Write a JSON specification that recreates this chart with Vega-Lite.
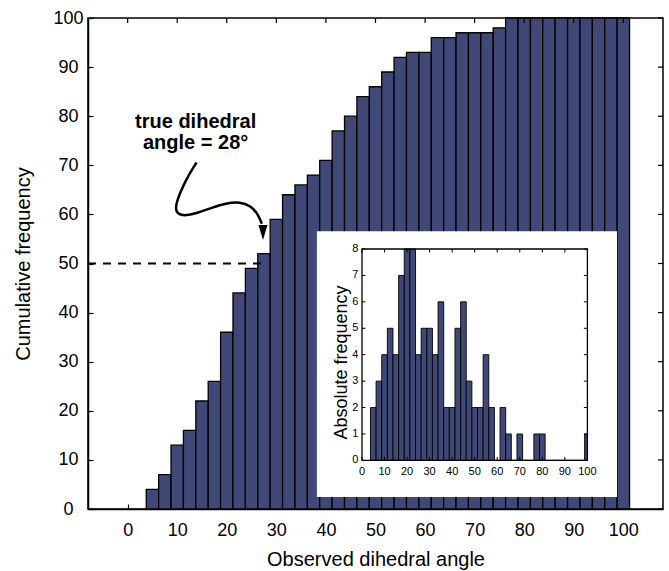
{
  "$schema": "https://vega.github.io/schema/vega-lite/v6.json",
  "autosize": {"type": "none"},
  "width": 575,
  "height": 491,
  "padding": {"left": 88, "top": 18, "right": 6, "bottom": 62},
  "background": "white",
  "config": {
    "view": {"stroke": "black", "strokeWidth": 1.5},
    "axis": {"domainColor": "black", "tickColor": "black", "labelColor": "black", "titleColor": "black", "grid": false, "domainWidth": 1.5, "tickWidth": 1.2, "labelFont": "Liberation Sans", "titleFont": "Liberation Sans", "titleFontWeight": "normal"}
  },
  "datasets": {
    "cumulative": [
      {"lo": 3.75, "hi": 6.25, "cum": 4},
      {"lo": 6.25, "hi": 8.75, "cum": 7},
      {"lo": 8.75, "hi": 11.25, "cum": 13},
      {"lo": 11.25, "hi": 13.75, "cum": 16},
      {"lo": 13.75, "hi": 16.25, "cum": 22},
      {"lo": 16.25, "hi": 18.75, "cum": 26},
      {"lo": 18.75, "hi": 21.25, "cum": 36},
      {"lo": 21.25, "hi": 23.75, "cum": 44},
      {"lo": 23.75, "hi": 26.25, "cum": 49},
      {"lo": 26.25, "hi": 28.75, "cum": 52},
      {"lo": 28.75, "hi": 31.25, "cum": 59},
      {"lo": 31.25, "hi": 33.75, "cum": 64},
      {"lo": 33.75, "hi": 36.25, "cum": 66},
      {"lo": 36.25, "hi": 38.75, "cum": 68},
      {"lo": 38.75, "hi": 41.25, "cum": 71},
      {"lo": 41.25, "hi": 43.75, "cum": 77},
      {"lo": 43.75, "hi": 46.25, "cum": 80},
      {"lo": 46.25, "hi": 48.75, "cum": 84},
      {"lo": 48.75, "hi": 51.25, "cum": 86},
      {"lo": 51.25, "hi": 53.75, "cum": 89},
      {"lo": 53.75, "hi": 56.25, "cum": 92},
      {"lo": 56.25, "hi": 58.75, "cum": 93},
      {"lo": 58.75, "hi": 61.25, "cum": 93},
      {"lo": 61.25, "hi": 63.75, "cum": 96},
      {"lo": 63.75, "hi": 66.25, "cum": 96},
      {"lo": 66.25, "hi": 68.75, "cum": 97},
      {"lo": 68.75, "hi": 71.25, "cum": 97},
      {"lo": 71.25, "hi": 73.75, "cum": 97},
      {"lo": 73.75, "hi": 76.25, "cum": 98},
      {"lo": 76.25, "hi": 78.75, "cum": 100},
      {"lo": 78.75, "hi": 81.25, "cum": 100},
      {"lo": 81.25, "hi": 83.75, "cum": 100},
      {"lo": 83.75, "hi": 86.25, "cum": 100},
      {"lo": 86.25, "hi": 88.75, "cum": 100},
      {"lo": 88.75, "hi": 91.25, "cum": 100},
      {"lo": 91.25, "hi": 93.75, "cum": 100},
      {"lo": 93.75, "hi": 96.25, "cum": 100},
      {"lo": 96.25, "hi": 98.75, "cum": 100},
      {"lo": 98.75, "hi": 101.25, "cum": 100}
    ],
    "absolute": [
      {"lo": 3.75, "hi": 6.25, "count": 2},
      {"lo": 6.25, "hi": 8.75, "count": 3},
      {"lo": 8.75, "hi": 11.25, "count": 4},
      {"lo": 11.25, "hi": 13.75, "count": 5},
      {"lo": 13.75, "hi": 16.25, "count": 4},
      {"lo": 16.25, "hi": 18.75, "count": 7},
      {"lo": 18.75, "hi": 21.25, "count": 8},
      {"lo": 21.25, "hi": 23.75, "count": 8},
      {"lo": 23.75, "hi": 26.25, "count": 4},
      {"lo": 26.25, "hi": 28.75, "count": 5},
      {"lo": 28.75, "hi": 31.25, "count": 5},
      {"lo": 31.25, "hi": 33.75, "count": 4},
      {"lo": 33.75, "hi": 36.25, "count": 6},
      {"lo": 36.25, "hi": 38.75, "count": 2},
      {"lo": 38.75, "hi": 41.25, "count": 2},
      {"lo": 41.25, "hi": 43.75, "count": 5},
      {"lo": 43.75, "hi": 46.25, "count": 6},
      {"lo": 46.25, "hi": 48.75, "count": 3},
      {"lo": 48.75, "hi": 51.25, "count": 2},
      {"lo": 51.25, "hi": 53.75, "count": 2},
      {"lo": 53.75, "hi": 56.25, "count": 4},
      {"lo": 56.25, "hi": 58.75, "count": 2},
      {"lo": 58.75, "hi": 61.25, "count": 0},
      {"lo": 61.25, "hi": 63.75, "count": 2},
      {"lo": 63.75, "hi": 66.25, "count": 1},
      {"lo": 66.25, "hi": 68.75, "count": 0},
      {"lo": 68.75, "hi": 71.25, "count": 1},
      {"lo": 71.25, "hi": 73.75, "count": 0},
      {"lo": 73.75, "hi": 76.25, "count": 0},
      {"lo": 76.25, "hi": 78.75, "count": 1},
      {"lo": 78.75, "hi": 81.25, "count": 1},
      {"lo": 81.25, "hi": 83.75, "count": 0},
      {"lo": 83.75, "hi": 86.25, "count": 0},
      {"lo": 86.25, "hi": 88.75, "count": 0},
      {"lo": 88.75, "hi": 91.25, "count": 0},
      {"lo": 91.25, "hi": 93.75, "count": 0},
      {"lo": 93.75, "hi": 96.25, "count": 0},
      {"lo": 96.25, "hi": 98.75, "count": 0},
      {"lo": 98.75, "hi": 101.25, "count": 1}
    ],
    "arrow": [
      {"ord": 1, "x": 13.89, "y": 70.57},
      {"ord": 2, "x": 12.33, "y": 68.07},
      {"ord": 3, "x": 11.02, "y": 65.42},
      {"ord": 4, "x": 10.01, "y": 62.97},
      {"ord": 5, "x": 9.61, "y": 61.14},
      {"ord": 6, "x": 10.11, "y": 60.02},
      {"ord": 7, "x": 11.73, "y": 59.71},
      {"ord": 8, "x": 14.15, "y": 60.32},
      {"ord": 9, "x": 16.98, "y": 61.34},
      {"ord": 10, "x": 19.8, "y": 62.26},
      {"ord": 11, "x": 22.63, "y": 62.56},
      {"ord": 12, "x": 24.85, "y": 61.75},
      {"ord": 13, "x": 26.26, "y": 60.12},
      {"ord": 14, "x": 27.07, "y": 58.08}
    ],
    "main_ticks": [{"v": 0}, {"v": 10}, {"v": 20}, {"v": 30}, {"v": 40}, {"v": 50}, {"v": 60}, {"v": 70}, {"v": 80}, {"v": 90}, {"v": 100}],
    "inset_xticks": [{"v": 0}, {"v": 10}, {"v": 20}, {"v": 30}, {"v": 40}, {"v": 50}, {"v": 60}, {"v": 70}, {"v": 80}, {"v": 90}, {"v": 100}],
    "inset_yticks": [{"v": 0}, {"v": 1}, {"v": 2}, {"v": 3}, {"v": 4}, {"v": 5}, {"v": 6}, {"v": 7}, {"v": 8}]
  },
  "layer": [
    {
      "layer": [
        {
          "data": {"name": "cumulative"},
          "mark": {"type": "bar", "fill": "#404878", "stroke": "black", "strokeWidth": 1.3},
          "encoding": {
            "x": {"field": "lo", "type": "quantitative", "scale": {"domain": [-8, 108], "nice": false, "zero": false},
                  "axis": {"orient": "bottom", "values": [0, 10, 20, 30, 40, 50, 60, 70, 80, 90, 100], "tickSize": -5, "labelPadding": 17.5, "labelFontSize": 18, "title": "Observed dihedral angle", "titleFontSize": 20, "titlePadding": 10}},
            "x2": {"field": "hi"},
            "y": {"field": "cum", "type": "quantitative", "scale": {"domain": [0, 100], "nice": false},
                  "axis": {"orient": "left", "values": [0, 10, 20, 30, 40, 50, 60, 70, 80, 90, 100], "tickSize": -5, "labelPadding": 25, "labelAlign": "center", "labelBaseline": "middle", "labelFontSize": 18, "title": "Cumulative frequency", "titleFontSize": 20, "titlePadding": 19}},
            "y2": {"datum": 0}
          }
        },
        {
          "data": {"name": "main_ticks"},
          "mark": {"type": "point", "shape": "M0,0L0,1", "size": 100, "filled": false, "stroke": "black", "strokeWidth": 1.2, "opacity": 1},
          "encoding": {
            "x": {"field": "v", "type": "quantitative"},
            "y": {"datum": 100}
          }
        },
        {
          "data": {"name": "main_ticks"},
          "mark": {"type": "point", "shape": "M0,0L-1,0", "size": 100, "filled": false, "stroke": "black", "strokeWidth": 1.2, "opacity": 1},
          "encoding": {
            "x": {"datum": 108},
            "y": {"field": "v", "type": "quantitative"}
          }
        },
        {
          "data": {"values": [{"from": -8, "to": 27.47, "level": 50}]},
          "mark": {"type": "rule", "stroke": "black", "strokeWidth": 2, "strokeDash": [8, 7]},
          "encoding": {
            "x": {"field": "from", "type": "quantitative"},
            "x2": {"field": "to"},
            "y": {"field": "level", "type": "quantitative"}
          }
        },
        {
          "data": {"values": [{"label": ["true dihedral", "angle = 28°"]}]},
          "mark": {"type": "text", "font": "Liberation Sans", "fontWeight": "bold", "fontSize": 20, "align": "center", "baseline": "alphabetic", "lineHeight": 21, "color": "black"},
          "encoding": {
            "x": {"datum": 13.71},
            "y": {"datum": 77.58},
            "text": {"field": "label"}
          }
        },
        {
          "data": {"name": "arrow"},
          "mark": {"type": "line", "stroke": "black", "strokeWidth": 2.5, "interpolate": "basis"},
          "encoding": {
            "x": {"field": "x", "type": "quantitative"},
            "y": {"field": "y", "type": "quantitative"},
            "order": {"field": "ord"}
          }
        },
        {
          "data": {"values": [{"tip": "arrowhead"}]},
          "mark": {"type": "point", "shape": "M-0.6,-1L0.6,-1L0,1Z", "filled": true, "color": "black", "size": 225, "opacity": 1},
          "encoding": {
            "x": {"datum": 27.3},
            "y": {"datum": 56.3}
          }
        },
        {
          "data": {"values": [{"x1": 38.17, "x2": 98.73, "y1": 2.45, "y2": 56.55}]},
          "mark": {"type": "rect", "fill": "white", "stroke": null},
          "encoding": {
            "x": {"field": "x1", "type": "quantitative"},
            "x2": {"field": "x2"},
            "y": {"field": "y1", "type": "quantitative"},
            "y2": {"field": "y2"}
          }
        },
        {
          "data": {"values": [{"label": "Absolute frequency"}]},
          "mark": {"type": "text", "font": "Liberation Sans", "fontSize": 18, "align": "center", "baseline": "middle", "angle": 270, "color": "black"},
          "encoding": {
            "x": {"datum": 43.18},
            "y": {"datum": 29.84},
            "text": {"field": "label"}
          }
        }
      ]
    },
    {
      "layer": [
        {
          "data": {"name": "absolute"},
          "mark": {"type": "bar", "fill": "#404878", "stroke": "black", "strokeWidth": 0.9},
          "encoding": {
            "x": {"field": "lo", "type": "quantitative", "scale": {"domain": [0, 100], "range": [274, 499.4], "nice": false, "zero": false, "clamp": true}, "axis": null},
            "x2": {"field": "hi"},
            "y": {"field": "count", "type": "quantitative", "scale": {"domain": [0, 8], "range": [442.4, 231], "nice": false}, "axis": null},
            "y2": {"datum": 0}
          }
        },
        {
          "data": {"values": [{"x1": 0, "x2": 100, "y1": 0, "y2": 8}]},
          "mark": {"type": "rect", "fill": null, "stroke": "black", "strokeWidth": 1.3},
          "encoding": {
            "x": {"field": "x1", "type": "quantitative", "axis": null},
            "x2": {"field": "x2"},
            "y": {"field": "y1", "type": "quantitative", "axis": null},
            "y2": {"field": "y2"}
          }
        },
        {
          "data": {"name": "inset_xticks"},
          "mark": {"type": "point", "shape": "M0,0L0,-1", "size": 49, "filled": false, "stroke": "black", "strokeWidth": 1, "opacity": 1},
          "encoding": {
            "x": {"field": "v", "type": "quantitative", "axis": null},
            "y": {"datum": 0, "axis": null}
          }
        },
        {
          "data": {"name": "inset_xticks"},
          "mark": {"type": "point", "shape": "M0,0L0,1", "size": 49, "filled": false, "stroke": "black", "strokeWidth": 1, "opacity": 1},
          "encoding": {
            "x": {"field": "v", "type": "quantitative", "axis": null},
            "y": {"datum": 8, "axis": null}
          }
        },
        {
          "data": {"name": "inset_yticks"},
          "mark": {"type": "point", "shape": "M0,0L1,0", "size": 49, "filled": false, "stroke": "black", "strokeWidth": 1, "opacity": 1},
          "encoding": {
            "x": {"datum": 0, "axis": null},
            "y": {"field": "v", "type": "quantitative", "axis": null}
          }
        },
        {
          "data": {"name": "inset_yticks"},
          "mark": {"type": "point", "shape": "M0,0L-1,0", "size": 49, "filled": false, "stroke": "black", "strokeWidth": 1, "opacity": 1},
          "encoding": {
            "x": {"datum": 100, "axis": null},
            "y": {"field": "v", "type": "quantitative", "axis": null}
          }
        },
        {
          "data": {"name": "inset_xticks"},
          "mark": {"type": "text", "font": "Liberation Sans", "fontSize": 11, "align": "center", "baseline": "top", "dy": 5.2, "color": "black"},
          "encoding": {
            "x": {"field": "v", "type": "quantitative", "axis": null},
            "y": {"datum": 0, "axis": null},
            "text": {"field": "v", "type": "quantitative"}
          }
        },
        {
          "data": {"name": "inset_yticks"},
          "mark": {"type": "text", "font": "Liberation Sans", "fontSize": 11, "align": "center", "baseline": "middle", "dx": -6.8, "color": "black"},
          "encoding": {
            "x": {"datum": 0, "axis": null},
            "y": {"field": "v", "type": "quantitative", "axis": null},
            "text": {"field": "v", "type": "quantitative"}
          }
        }
      ]
    }
  ],
  "resolve": {"scale": {"x": "independent", "y": "independent"}, "axis": {"x": "independent", "y": "independent"}}
}
